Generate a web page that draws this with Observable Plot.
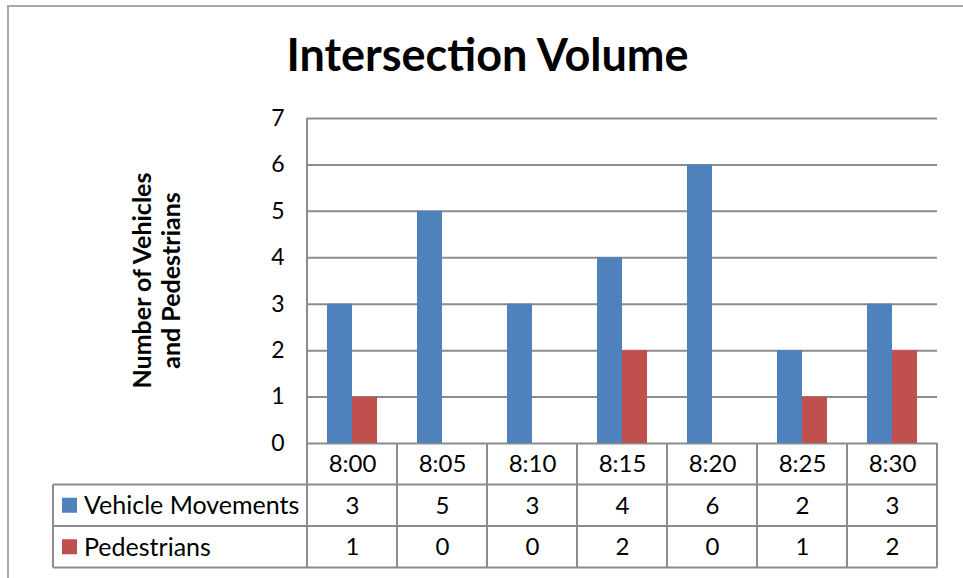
<!DOCTYPE html>
<html><head><meta charset="utf-8">
<script src="https://cdn.jsdelivr.net/npm/d3@7"></script>
<script src="https://cdn.jsdelivr.net/npm/@observablehq/plot@0.6"></script>
<style>
body{margin:0;background:#fff;font-family:Lato,"Open Sans",sans-serif;}
#wrap{position:relative;width:963px;height:578px;overflow:hidden;background:#fff;}
#frame{position:absolute;left:7px;top:5px;width:970px;height:600px;border-top:2px solid #a6a6a6;border-left:2px solid #a6a6a6;}
#title{position:absolute;top:32px;left:6px;width:963px;text-align:center;font:bold 45px/45px Lato,sans-serif;color:#000;}
#chart{position:absolute;top:100px;left:0;}
</style></head>
<body><div id="wrap"><div id="frame"></div><div id="title">Intersection Volume</div><div id="chart"></div></div>
<script>
const times = ["8:00","8:05","8:10","8:15","8:20","8:25","8:30"];
const seriesNames = ["Vehicle Movements","Pedestrians"];
const vehicles = [3,5,3,4,6,2,3];
const pedestrians = [1,0,0,2,0,1,2];
const yTicks = [0,1,2,3,4,5,6,7];
const colors = ["#4F81BD","#C0504D"];
const yLabelLines = ["Number of Vehicles","and Pedestrians"];

const rows = times.flatMap((t,i)=>[
  {time:t, series:seriesNames[0], value:vehicles[i]},
  {time:t, series:seriesNames[1], value:pedestrians[i]}
]);
const valueRows = times.map((t,i)=>({time:t, v:vehicles[i], p:pedestrians[i]}));

const gray = "#8c8c8c";
const W = 963, H = 478, mL = 306, mR = 25, mT = 18, mB = 135;
const rowH = 41.5;

const plot = Plot.plot({
  width: W, height: H,
  marginLeft: mL, marginRight: mR, marginTop: mT, marginBottom: mB,
  style: {fontFamily: "Lato, sans-serif", fontSize: "23px", color: "#000", background: "transparent", overflow: "visible"},
  fx: {domain: times, padding: 0, axis: null, label: null},
  x: {domain: seriesNames, paddingInner: 0, paddingOuter: 0.77, axis: null, label: null},
  y: {domain: [0,7], ticks: yTicks, tickSize: 0, tickPadding: 23, tickFormat: d3.format("d"), label: null},
  color: {domain: seriesNames, range: colors},
  marks: [
    Plot.ruleY(yTicks, {stroke: gray, strokeWidth: 2}),
    Plot.barY(rows, {fx: "time", x: "series", y: "value", fill: "series"}),
    Plot.text(valueRows, {fx: "time", text: "time", frameAnchor: "bottom", lineAnchor: "middle", dy: 21, fontSize: 24}),
    Plot.text(valueRows, {fx: "time", text: "v", frameAnchor: "bottom", lineAnchor: "middle", dy: 21 + rowH, fontSize: 24}),
    Plot.text(valueRows, {fx: "time", text: "p", frameAnchor: "bottom", lineAnchor: "middle", dy: 21 + 2*rowH, fontSize: 24})
  ]
});
document.getElementById("chart").appendChild(plot);

// table grid and legend, positioned from the plot's own scales
const fx = plot.scale("fx"), y = plot.scale("y");
const svg = d3.select(plot);
const y0 = y.apply(0), yTop = y.apply(7);
const right = fx.apply(times[times.length-1]) + fx.bandwidth;
const legendLeft = 53;
const g = svg.append("g").attr("stroke", gray).attr("stroke-width", 2);
times.forEach((t,i) => {
  const x = fx.apply(t);
  g.append("line").attr("x1", x).attr("x2", x).attr("y1", i === 0 ? yTop : y0).attr("y2", y0 + 3*rowH);
});
g.append("line").attr("x1", right).attr("x2", right).attr("y1", y0).attr("y2", y0 + 3*rowH);
g.append("line").attr("x1", legendLeft).attr("x2", legendLeft).attr("y1", y0 + rowH).attr("y2", y0 + 3*rowH);
for (let r = 1; r <= 3; r++) {
  g.append("line").attr("x1", legendLeft).attr("x2", right).attr("y1", y0 + r*rowH).attr("y2", y0 + r*rowH);
}
seriesNames.forEach((s,i) => {
  const cy = y0 + (i+1.5)*rowH;
  svg.append("rect").attr("x", legendLeft + 9).attr("y", cy - 7.5).attr("width", 15).attr("height", 15).attr("fill", colors[i]);
  svg.append("text").attr("x", legendLeft + 31).attr("y", cy).attr("dy", "0.35em").attr("text-anchor", "start")
    .attr("font-size", 25).attr("font-family", "Lato, sans-serif").attr("fill", "#000").text(s);
});
const lab = svg.append("text").attr("transform", `translate(${mL - 149},${(y0 + yTop)/2}) rotate(-90)`)
  .attr("text-anchor", "middle").attr("font-weight", "bold").attr("font-size", 25)
  .attr("font-family", "Lato, sans-serif").attr("fill", "#000");
yLabelLines.forEach((l,i) => lab.append("tspan").attr("x", 0).attr("y", (i - 0.5) * 29).attr("dy", "0.35em").text(l));
</script></body></html>
